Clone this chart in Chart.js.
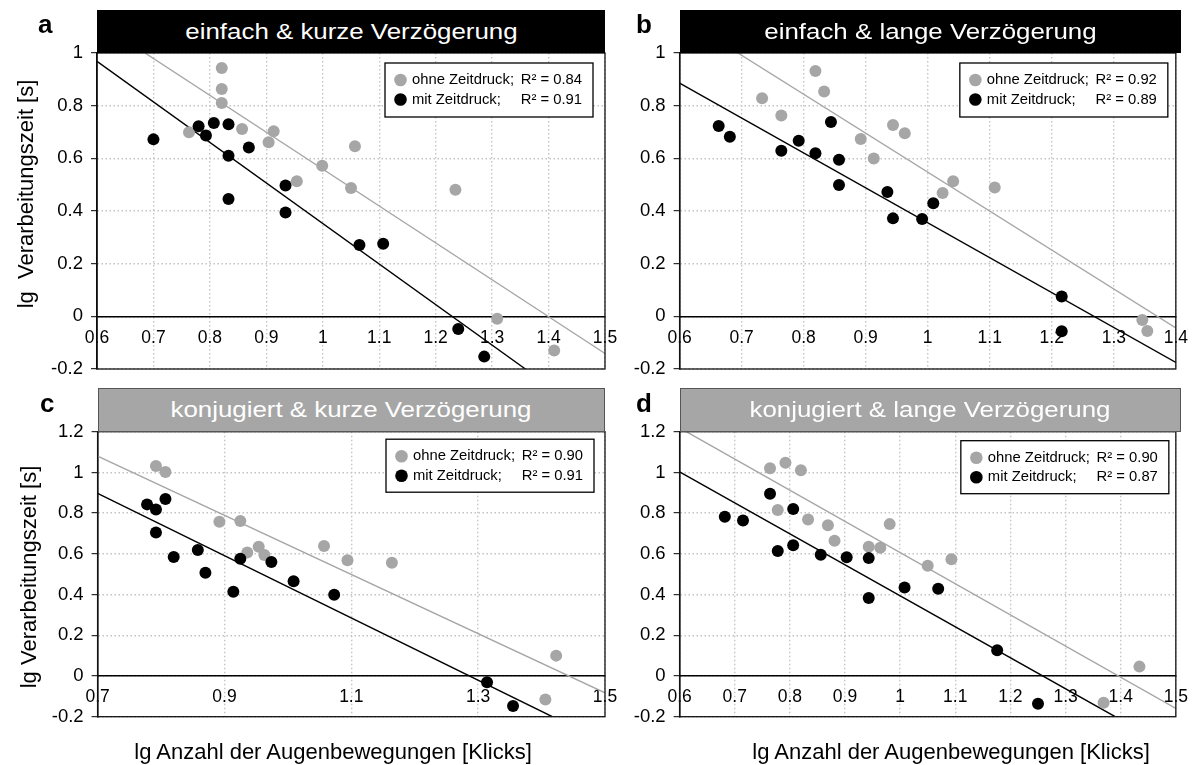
<!DOCTYPE html>
<html>
<head>
<meta charset="utf-8">
<script src="https://cdn.jsdelivr.net/npm/chart.js@4.4.0/dist/chart.umd.min.js"></script>
<style>
  body { margin: 0; background: #fff; font-family: "Liberation Sans", Arial, sans-serif; }
  #wrap { position: relative; width: 1199px; height: 765px; overflow: hidden; }
  canvas { position: absolute; }
  .bar { position: absolute; box-sizing: border-box; color: #fff; text-align: center; font-size: 22.5px; white-space: nowrap; }
  .bar span { display: inline-block; transform: scaleX(1.15); }
  .letter { position: absolute; font-weight: bold; font-size: 26px; line-height: 26px; }
  .ytitle { position: absolute; font-size: 22px; white-space: pre; transform: translate(-50%, -50%) rotate(-90deg); }
  .xtitle { position: absolute; font-size: 22px; white-space: pre; transform: translate(-50%, -50%); }
</style>
</head>
<body>
<div id="wrap">
  <canvas id="cA" width="630" height="390" style="left:0;top:0"></canvas>
  <canvas id="cB" width="569" height="390" style="left:630px;top:0"></canvas>
  <canvas id="cC" width="630" height="385" style="left:0;top:380px"></canvas>
  <canvas id="cD" width="569" height="385" style="left:630px;top:380px"></canvas>

  <div class="bar" style="left:97px;top:10px;width:508px;height:43px;line-height:43px;background:#000"><span>einfach &amp; kurze Verzögerung</span></div>
  <div class="bar" style="left:679.6px;top:10px;width:501.4px;height:43px;line-height:43px;background:#000"><span>einfach &amp; lange Verzögerung</span></div>
  <div class="bar" style="left:97.6px;top:388px;width:507.4px;height:44px;line-height:42px;background:#a6a6a6;border:1px solid #555"><span>konjugiert &amp; kurze Verzögerung</span></div>
  <div class="bar" style="left:679.6px;top:388px;width:501.4px;height:44px;line-height:42px;background:#a6a6a6;border:1px solid #555"><span>konjugiert &amp; lange Verzögerung</span></div>

  <div class="letter" style="left:38px;top:11px">a</div>
  <div class="letter" style="left:636px;top:11px">b</div>
  <div class="letter" style="left:40px;top:390px">c</div>
  <div class="letter" style="left:636px;top:390px">d</div>

  <div class="ytitle" style="left:26px;top:194px">lg  Verarbeitungszeit [s]</div>
  <div class="ytitle" style="left:29px;top:577px">lg Verarbeitungszeit [s]</div>
  <div class="xtitle" style="left:333px;top:752px">lg Anzahl der Augenbewegungen [Klicks]</div>
  <div class="xtitle" style="left:951px;top:752px">lg Anzahl der Augenbewegungen [Klicks]</div>
</div>

<script>
// --- Daten ---
const labelOhne = 'ohne Zeitdruck;';
const labelMit = 'mit Zeitdruck;';
const r2Ohne = ['0.84', '0.92', '0.90', '0.90'];
const r2Mit = ['0.91', '0.89', '0.91', '0.87'];

const xTicksA = [0.6, 0.7, 0.8, 0.9, 1, 1.1, 1.2, 1.3, 1.4, 1.5];
const xTicksB = [0.6, 0.7, 0.8, 0.9, 1, 1.1, 1.2, 1.3, 1.4];
const xTicksC = [0.7, 0.9, 1.1, 1.3, 1.5];
const xTicksD = [0.6, 0.7, 0.8, 0.9, 1, 1.1, 1.2, 1.3, 1.4, 1.5];
const yTicksTop = [-0.2, 0, 0.2, 0.4, 0.6, 0.8, 1];
const yTicksBottom = [-0.2, 0, 0.2, 0.4, 0.6, 0.8, 1, 1.2];

// a: einfach & kurze Verzögerung
const aOhneX = [0.821, 0.821, 0.821, 0.763, 0.857, 0.913, 0.904, 0.954, 0.999, 1.057, 1.050, 1.235, 1.309, 1.410];
const aOhneY = [0.943, 0.863, 0.810, 0.699, 0.711, 0.703, 0.661, 0.513, 0.572, 0.646, 0.487, 0.481, -0.009, -0.130];
const aMitX = [0.700, 0.780, 0.793, 0.807, 0.833, 0.833, 0.833, 0.869, 0.934, 0.934, 1.065, 1.107, 1.240, 1.286];
const aMitY = [0.672, 0.722, 0.687, 0.734, 0.729, 0.610, 0.446, 0.641, 0.497, 0.394, 0.271, 0.276, -0.048, -0.153];
const aFitOhneX = [0.685, 1.5], aFitOhneY = [1.0, -0.141];
const aFitMitX = [0.6, 1.359], aFitMitY = [0.968, -0.2];

// b: einfach & lange Verzögerung
const bOhneX = [0.733, 0.764, 0.819, 0.833, 0.892, 0.913, 0.944, 0.963, 1.024, 1.041, 1.108, 1.346, 1.354];
const bOhneY = [0.828, 0.763, 0.932, 0.854, 0.673, 0.599, 0.727, 0.695, 0.468, 0.513, 0.489, -0.014, -0.056];
const bMitX = [0.663, 0.681, 0.764, 0.792, 0.819, 0.844, 0.857, 0.857, 0.935, 0.944, 0.991, 1.009, 1.216, 1.216];
const bMitY = [0.723, 0.682, 0.629, 0.667, 0.619, 0.738, 0.595, 0.499, 0.472, 0.372, 0.370, 0.429, 0.075, -0.057];
const bFitOhneX = [0.694, 1.4], bFitOhneY = [1.0, -0.044];
const bFitMitX = [0.6, 1.4], bFitMitY = [0.886, -0.175];

// c: konjugiert & kurze Verzögerung
const cOhneX = [0.792, 0.807, 0.892, 0.925, 0.936, 0.954, 0.963, 1.057, 1.094, 1.164, 1.423, 1.406];
const cOhneY = [1.031, 1.002, 0.758, 0.761, 0.607, 0.635, 0.594, 0.638, 0.568, 0.556, 0.100, -0.115];
const cMitX = [0.778, 0.792, 0.807, 0.792, 0.820, 0.858, 0.870, 0.925, 0.914, 0.974, 1.009, 1.073, 1.314, 1.355];
const cMitY = [0.843, 0.818, 0.869, 0.705, 0.584, 0.619, 0.507, 0.576, 0.414, 0.560, 0.465, 0.399, -0.031, -0.147];
const cFitOhneX = [0.7, 1.5], cFitOhneY = [1.080, -0.083];
const cFitMitX = [0.7, 1.417], cFitMitY = [0.897, -0.2];

// d: konjugiert & lange Verzögerung
const dOhneX = [0.764, 0.792, 0.820, 0.778, 0.833, 0.869, 0.881, 0.981, 0.943, 0.964, 1.050, 1.093, 1.434, 1.369];
const dOhneY = [1.021, 1.047, 1.011, 0.815, 0.769, 0.741, 0.664, 0.746, 0.635, 0.630, 0.542, 0.574, 0.046, -0.131];
const dMitX = [0.682, 0.715, 0.764, 0.806, 0.778, 0.806, 0.856, 0.903, 0.943, 0.943, 1.008, 1.069, 1.176, 1.250];
const dMitY = [0.782, 0.764, 0.895, 0.820, 0.614, 0.642, 0.596, 0.583, 0.579, 0.383, 0.435, 0.429, 0.126, -0.136];
const dFitOhneX = [0.612, 1.5], dFitOhneY = [1.2, -0.159];
const dFitMitX = [0.6, 1.390], dFitMitY = [1.003, -0.2];

const GRAY = '#a6a6a6';
const BLACK = '#000';
const FONT = '"Liberation Sans", Arial, sans-serif';

Chart.defaults.font.family = FONT;
Chart.defaults.color = '#000';

function pts(xs, ys) {
  return xs.map((x, i) => ({ x: x, y: ys[i] }));
}

function fmt(v) {
  return String(Math.round(v * 10) / 10);
}

// Rahmen um die Zeichenfläche
const framePlugin = {
  id: 'frame',
  afterDatasetsDraw(chart) {
    const { ctx, chartArea: a } = chart;
    ctx.save();
    ctx.strokeStyle = '#111';
    ctx.lineWidth = 1.3;
    ctx.strokeRect(a.left, a.top, a.right - a.left, a.bottom - a.top);
    ctx.restore();
  }
};

// Legende mit Rahmen und R²
const legendBox = {
  id: 'legendBox',
  afterDraw(chart, args, opts) {
    const { ctx, chartArea } = chart;
    const x = chartArea.right - opts.right - opts.w;
    const y = chartArea.top + opts.top;
    ctx.save();
    ctx.fillStyle = '#fff';
    ctx.fillRect(x, y, opts.w, opts.h);
    ctx.strokeStyle = '#000';
    ctx.lineWidth = 1.3;
    ctx.strokeRect(x, y, opts.w, opts.h);
    ctx.font = '14.8px ' + FONT;
    ctx.textBaseline = 'middle';
    const rows = [
      { ds: chart.data.datasets[1], r2: opts.r2[0] },
      { ds: chart.data.datasets[0], r2: opts.r2[1] }
    ];
    rows.forEach((row, i) => {
      const cy = y + 17 + i * 19.5;
      ctx.fillStyle = row.ds.backgroundColor;
      ctx.beginPath();
      ctx.arc(x + 15.5, cy, 6.3, 0, Math.PI * 2);
      ctx.fill();
      ctx.fillStyle = '#000';
      ctx.textAlign = 'left';
      ctx.fillText(row.ds.label, x + 27, cy);
      ctx.textAlign = 'right';
      ctx.fillText('R² = ' + row.r2, x + opts.w - 11, cy);
    });
    ctx.restore();
  }
};

function makePanel(id, p) {
  const datasets = [
    { label: labelMit, data: pts(p.mitX, p.mitY), backgroundColor: BLACK, pointRadius: 6, pointBorderWidth: 0 },
    { label: labelOhne, data: pts(p.ohneX, p.ohneY), backgroundColor: GRAY, pointRadius: 6, pointBorderWidth: 0 },
    { label: 'fitMit', data: pts(p.fitMitX, p.fitMitY), showLine: true, borderColor: BLACK, borderWidth: 1.4, pointRadius: 0 },
    { label: 'fitOhne', data: pts(p.fitOhneX, p.fitOhneY), showLine: true, borderColor: GRAY, borderWidth: 1.4, pointRadius: 0 }
  ];

  new Chart(document.getElementById(id), {
    type: 'scatter',
    data: { datasets },
    options: {
      responsive: false,
      animation: false,
      events: [],
      layout: { padding: p.padding },
      plugins: {
        legend: { display: false },
        tooltip: { enabled: false },
        legendBox: p.legend
      },
      scales: {
        x: {
          type: 'linear',
          min: p.xTicks[0],
          max: p.xTicks[p.xTicks.length - 1],
          position: { y: 0 },
          afterBuildTicks: (s) => { s.ticks = p.xTicks.map(v => ({ value: v })); },
          grid: { color: '#c4c4c4', lineWidth: 1.4, drawTicks: false },
          border: { display: true, color: '#000', width: 1.5, dash: [1.5, 2.5] },
          ticks: { autoSkip: false, maxRotation: 0, padding: 11, font: { size: 17.5 }, callback: fmt }
        },
        y: {
          type: 'linear',
          min: p.yTicks[0],
          max: p.yTicks[p.yTicks.length - 1],
          afterBuildTicks: (s) => { s.ticks = p.yTicks.map(v => ({ value: v })); },
          afterFit: (s) => { s.width = p.yWidth; },
          grid: { color: '#c4c4c4', lineWidth: 1.4, tickLength: 6, tickColor: '#000', tickWidth: 1, tickBorderDash: [] },
          border: { display: true, color: '#000', width: 1.5, dash: [1.5, 2.5] },
          ticks: { padding: 8, font: { size: 18.5 }, callback: fmt }
        }
      }
    },
    plugins: [framePlugin, legendBox]
  });
}

makePanel('cA', {
  ohneX: aOhneX, ohneY: aOhneY, mitX: aMitX, mitY: aMitY,
  fitOhneX: aFitOhneX, fitOhneY: aFitOhneY, fitMitX: aFitMitX, fitMitY: aFitMitY,
  xTicks: xTicksA, yTicks: yTicksTop, yWidth: 97,
  padding: { left: 0, top: 53, right: 25, bottom: 21 },
  legend: { right: 12, top: 10, w: 208, h: 54, r2: [r2Ohne[0], r2Mit[0]] }
});
makePanel('cB', {
  ohneX: bOhneX, ohneY: bOhneY, mitX: bMitX, mitY: bMitY,
  fitOhneX: bFitOhneX, fitOhneY: bFitOhneY, fitMitX: bFitMitX, fitMitY: bFitMitY,
  xTicks: xTicksB, yTicks: yTicksTop, yWidth: 49.6,
  padding: { left: 0, top: 53, right: 18, bottom: 21 },
  legend: { right: 8, top: 10, w: 208, h: 54, r2: [r2Ohne[1], r2Mit[1]] }
});
makePanel('cC', {
  ohneX: cOhneX, ohneY: cOhneY, mitX: cMitX, mitY: cMitY,
  fitOhneX: cFitOhneX, fitOhneY: cFitOhneY, fitMitX: cFitMitX, fitMitY: cFitMitY,
  xTicks: xTicksC, yTicks: yTicksBottom, yWidth: 97.6,
  padding: { left: 0, top: 51.7, right: 25, bottom: 48.3 },
  legend: { right: 11, top: 7.5, w: 208, h: 53, r2: [r2Ohne[2], r2Mit[2]] }
});
makePanel('cD', {
  ohneX: dOhneX, ohneY: dOhneY, mitX: dMitX, mitY: dMitY,
  fitOhneX: dFitOhneX, fitOhneY: dFitOhneY, fitMitX: dFitMitX, fitMitY: dFitMitY,
  xTicks: xTicksD, yTicks: yTicksBottom, yWidth: 49.6,
  padding: { left: 0, top: 51.7, right: 18, bottom: 48.3 },
  legend: { right: 7, top: 9, w: 208, h: 53, r2: [r2Ohne[3], r2Mit[3]] }
});
</script>
</body>
</html>
